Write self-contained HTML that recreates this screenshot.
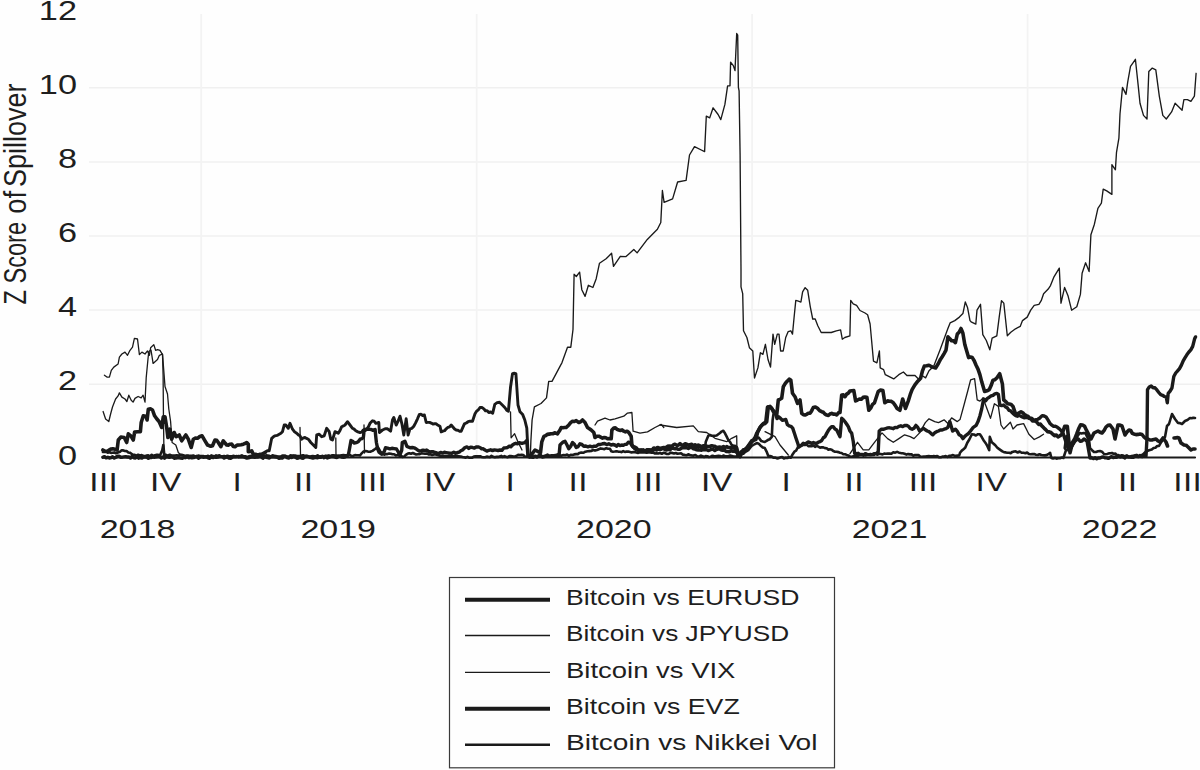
<!DOCTYPE html>
<html><head><meta charset="utf-8"><style>
html,body{margin:0;padding:0;background:#fff;}
body{width:1200px;height:770px;overflow:hidden;}
svg{display:block;}
text{font-family:"Liberation Sans",sans-serif;fill:#1e1e1e;}
</style></head><body>
<svg width="1200" height="770" viewBox="0 0 1200 770">
<rect width="1200" height="770" fill="#fefefe"/>
<line x1="89" y1="384.2" x2="1200" y2="384.2" stroke="#f0f0f0" stroke-width="1.5"/><line x1="89" y1="310.1" x2="1200" y2="310.1" stroke="#f0f0f0" stroke-width="1.5"/><line x1="89" y1="236.0" x2="1200" y2="236.0" stroke="#f0f0f0" stroke-width="1.5"/><line x1="89" y1="161.9" x2="1200" y2="161.9" stroke="#f0f0f0" stroke-width="1.5"/><line x1="89" y1="87.8" x2="1200" y2="87.8" stroke="#f0f0f0" stroke-width="1.5"/><line x1="201.2" y1="14" x2="201.2" y2="458" stroke="#f3f3f3" stroke-width="1.8"/><line x1="476.7" y1="14" x2="476.7" y2="458" stroke="#f3f3f3" stroke-width="1.8"/><line x1="752.1" y1="14" x2="752.1" y2="458" stroke="#f3f3f3" stroke-width="1.8"/><line x1="1027.6" y1="14" x2="1027.6" y2="458" stroke="#f3f3f3" stroke-width="1.8"/>
<g font-size="27"><text x="0" y="0" transform="translate(77,464.5) scale(1.27,1)" text-anchor="end">0</text><text x="0" y="0" transform="translate(77,390.4) scale(1.27,1)" text-anchor="end">2</text><text x="0" y="0" transform="translate(77,316.3) scale(1.27,1)" text-anchor="end">4</text><text x="0" y="0" transform="translate(77,242.2) scale(1.27,1)" text-anchor="end">6</text><text x="0" y="0" transform="translate(77,168.1) scale(1.27,1)" text-anchor="end">8</text><text x="0" y="0" transform="translate(77,94.0) scale(1.27,1)" text-anchor="end">10</text><text x="0" y="0" transform="translate(77,19.9) scale(1.27,1)" text-anchor="end">12</text></g>
<g font-size="25"><text transform="translate(103.70,491) scale(1.33,1)" text-anchor="middle" letter-spacing="0.3">III</text><text transform="translate(165.60000000000002,491) scale(1.33,1)" text-anchor="middle">IV</text><text transform="translate(237.20,491) scale(1.33,1)" text-anchor="middle" letter-spacing="0.3">I</text><text transform="translate(303.70,491) scale(1.33,1)" text-anchor="middle" letter-spacing="0.3">II</text><text transform="translate(372.70,491) scale(1.33,1)" text-anchor="middle" letter-spacing="0.3">III</text><text transform="translate(439.6,491) scale(1.33,1)" text-anchor="middle">IV</text><text transform="translate(510.20,491) scale(1.33,1)" text-anchor="middle" letter-spacing="0.3">I</text><text transform="translate(578.20,491) scale(1.33,1)" text-anchor="middle" letter-spacing="0.3">II</text><text transform="translate(648.50,491) scale(1.33,1)" text-anchor="middle" letter-spacing="0.3">III</text><text transform="translate(716.8,491) scale(1.33,1)" text-anchor="middle">IV</text><text transform="translate(786.20,491) scale(1.33,1)" text-anchor="middle" letter-spacing="0.3">I</text><text transform="translate(854.20,491) scale(1.33,1)" text-anchor="middle" letter-spacing="0.3">II</text><text transform="translate(923.20,491) scale(1.33,1)" text-anchor="middle" letter-spacing="0.3">III</text><text transform="translate(991.3,491) scale(1.33,1)" text-anchor="middle">IV</text><text transform="translate(1060.20,491) scale(1.33,1)" text-anchor="middle" letter-spacing="0.3">I</text><text transform="translate(1127.70,491) scale(1.33,1)" text-anchor="middle" letter-spacing="0.3">II</text><text transform="translate(1187.70,491) scale(1.33,1)" text-anchor="middle" letter-spacing="0.3">III</text><text transform="translate(137.5,537.8) scale(1.36,1)" text-anchor="middle">2018</text><text transform="translate(338.2,537.8) scale(1.36,1)" text-anchor="middle">2019</text><text transform="translate(613.8,537.8) scale(1.36,1)" text-anchor="middle">2020</text><text transform="translate(889.5,537.8) scale(1.36,1)" text-anchor="middle">2021</text><text transform="translate(1119.5,537.8) scale(1.36,1)" text-anchor="middle">2022</text></g>
<g font-size="24">
<text transform="translate(26.3,304.5) rotate(-90) scale(1,1.33)" textLength="82.5" lengthAdjust="spacingAndGlyphs">Z Score</text>
<text transform="translate(26.3,213.8) rotate(-90) scale(1,1.33)" textLength="22.8" lengthAdjust="spacingAndGlyphs">of</text>
<text transform="translate(26.3,187) rotate(-90) scale(1,1.33)" textLength="103.5" lengthAdjust="spacingAndGlyphs">Spillover</text>
</g>
<polyline points="102.9,457.5 1195.0,457.5" fill="none" stroke="#1a1a1a" stroke-width="2.2" stroke-linejoin="round" stroke-linecap="round"/><polyline points="850.0,453.6 857.5,442.3 863.2,449.9 868.8,449.9 874.5,442.3 882.0,432.9 887.6,438.6 893.3,442.3 898.9,438.6 904.6,434.8 910.2,436.7 914.0,438.6 919.6,432.9 925.3,422.6 929.0,418.8 934.7,421.6 938.5,422.6 944.1,419.8 947.9,423.5 951.6,417.9 957.3,421.6 960.0,419.6 964.0,405.0 968.0,390.0 970.6,379.9 974.6,378.6 977.2,399.8 979.9,401.1 983.0,398.0 990.5,418.3 994.4,403.7 998.4,406.4 1001.0,425.0 1003.7,429.0 1010.4,422.3 1013.0,429.0 1017.0,425.0 1023.6,423.6 1028.9,434.2 1034.2,439.5 1039.5,436.9 1043.5,434.2" fill="none" stroke="#1a1a1a" stroke-width="1.3" stroke-linejoin="round" stroke-linecap="round"/><polyline points="660.0,425.0 676.7,427.5 693.3,425.8 698.3,431.7 706.7,432.5 715.0,438.3 726.7,441.7 731.7,438.3 736.7,435.8 737.0,456.0" fill="none" stroke="#1a1a1a" stroke-width="1.3" stroke-linejoin="round" stroke-linecap="round"/><polyline points="595.0,425.0 597.5,421.2 605.0,418.1 610.0,420.0 615.0,418.8 623.8,416.2 627.5,413.1 631.9,412.5 633.1,431.2 640.0,433.1 647.5,431.9 655.0,427.5 661.2,424.4 663.8,427.5" fill="none" stroke="#1a1a1a" stroke-width="1.3" stroke-linejoin="round" stroke-linecap="round"/><polyline points="765.0,431.7 775.0,436.7 780.0,445.0 788.3,455.0" fill="none" stroke="#1a1a1a" stroke-width="1.3" stroke-linejoin="round" stroke-linecap="round"/><polyline points="300.0,427.5 300.5,455.0" fill="none" stroke="#1a1a1a" stroke-width="1.3" stroke-linejoin="round" stroke-linecap="round"/><polyline points="335.8,438.0 336.0,455.0" fill="none" stroke="#1a1a1a" stroke-width="1.3" stroke-linejoin="round" stroke-linecap="round"/><polyline points="364.0,425.0 364.5,453.0" fill="none" stroke="#1a1a1a" stroke-width="1.3" stroke-linejoin="round" stroke-linecap="round"/><polyline points="510.5,411.8 511.1,437.8 514.6,433.7 518.0,441.9 522.0,450.0" fill="none" stroke="#1a1a1a" stroke-width="1.3" stroke-linejoin="round" stroke-linecap="round"/><polyline points="163.3,445.0 163.5,455.0" fill="none" stroke="#1a1a1a" stroke-width="1.3" stroke-linejoin="round" stroke-linecap="round"/><polyline points="102.9,452.0 104.5,451.9 106.1,451.8 107.7,452.7 109.3,452.0 111.0,452.9 112.6,452.8 114.2,452.4 115.8,453.3 117.9,452.5 120.0,451.7 121.7,450.3 123.3,450.4 125.0,451.0 126.6,451.1 128.3,452.5 130.4,452.9 132.5,454.6 134.4,454.7 136.2,455.6 138.1,454.7 140.0,455.5 141.7,455.1 143.3,455.7 145.0,456.2 146.7,455.6 148.3,455.3 150.0,456.3 151.7,454.8 153.3,456.1 155.0,455.2 156.7,454.9 158.3,454.9 160.0,455.5 162.3,450.0 163.3,445.0 164.3,455.0 166.1,454.8 167.9,455.7 169.7,454.7 171.4,455.5 173.2,455.6 175.0,455.5 176.7,455.3 178.3,455.6 180.0,454.9 181.7,454.9 183.3,455.2 185.0,456.0 186.7,455.6 188.3,455.5 190.0,455.9 191.7,455.8 193.3,455.5 195.0,456.4 196.7,456.3 198.3,455.6 200.0,456.0 201.6,456.1 203.2,456.0 204.8,456.6 206.5,456.4 208.1,455.7 209.7,456.8 211.3,455.4 212.9,455.9 214.5,456.4 216.1,455.4 217.7,456.0 219.4,455.3 221.0,456.3 222.6,456.4 224.2,456.1 225.8,456.6 227.4,455.7 229.0,456.3 230.6,456.2 232.3,456.1 233.9,455.9 235.5,456.5 237.1,456.7 238.7,456.0 240.3,456.3 241.9,455.3 243.5,456.3 245.2,456.2 246.8,456.8 248.4,456.5 250.0,456.0 251.6,455.7 253.2,455.8 254.8,456.3 256.5,455.2 258.1,455.9 259.7,455.5 261.3,455.4 262.9,455.3 264.5,456.4 266.1,455.4 267.7,455.6 269.4,455.8 271.0,456.6 272.6,455.3 274.2,455.9 275.8,456.1 277.4,456.6 279.0,456.5 280.6,456.6 282.3,455.6 283.9,455.9 285.5,455.8 287.1,456.6 288.7,456.7 290.3,455.4 291.9,455.5 293.5,455.6 295.2,455.6 296.8,456.0 298.4,456.1 300.0,456.0 301.6,455.6 303.2,455.2 304.8,455.9 306.4,455.8 308.0,456.1 309.6,456.7 311.2,456.3 312.8,456.0 314.4,456.2 316.0,456.3 317.6,455.3 319.2,456.6 320.8,456.4 322.4,456.6 324.0,456.5 325.6,455.8 327.2,455.8 328.8,455.4 330.4,456.2 332.0,455.3 333.6,455.3 335.2,455.5 336.8,455.5 338.4,455.7 340.0,456.0 341.7,455.2 343.3,455.1 345.0,455.3 346.7,455.2 348.3,455.6 350.0,455.0 351.7,456.3 353.3,455.8 355.0,455.1 356.7,455.2 358.3,455.3 360.0,455.5 361.7,453.3 363.4,451.6 365.6,451.0 367.9,451.6 370.2,451.8 372.5,450.9 375.1,449.0 377.7,447.0 380.0,451.0 382.5,453.8 384.2,454.7 385.8,454.0 387.5,454.1 389.2,453.6 390.8,453.8 392.5,454.3 394.2,454.3 395.8,455.4 397.5,455.0 399.2,455.1 400.8,455.6 402.5,457.0 404.2,456.6 405.8,454.9 407.5,453.8 409.2,453.2 411.0,453.8 412.8,453.0 414.5,453.8 416.2,454.5 418.0,454.3 419.8,454.1 421.5,453.4 423.2,453.5 425.0,453.8 426.8,453.4 428.6,454.5 430.4,454.3 432.1,454.9 433.9,454.4 435.7,454.4 437.5,455.0 439.2,455.6 440.8,456.1 442.5,456.0 444.2,456.0 445.8,456.2 447.5,456.2 449.2,455.5 450.8,456.1 452.5,456.2 454.2,456.1 455.8,455.7 457.5,455.9 459.2,456.4 460.8,456.5 462.5,457.0 464.1,457.3 465.7,457.7 467.3,456.8 469.0,457.6 470.6,457.7 472.2,457.6 473.8,456.6 475.4,456.4 477.0,456.3 478.6,456.3 480.2,456.3 481.9,456.9 483.5,457.3 485.1,457.2 486.7,456.6 488.3,456.9 489.9,457.1 491.5,455.9 493.1,456.8 494.8,457.2 496.4,456.9 498.0,456.9 499.6,456.4 501.2,455.9 502.8,456.9 504.4,456.1 506.0,456.8 507.7,457.1 509.3,456.1 510.9,456.1 512.5,456.2 514.4,456.7 516.2,456.0 518.1,454.8 520.0,455.0 521.6,454.7 523.2,455.0 524.8,456.5 526.4,456.7 528.0,456.5 529.6,455.9 531.2,456.9 532.8,457.1 534.4,456.6 536.0,456.0 537.6,456.3 539.2,455.6 540.8,455.3 542.4,456.8 544.0,456.2 545.6,456.0 547.2,456.6 548.8,455.7 550.4,456.4 552.0,456.3 553.6,455.2 555.2,455.3 556.8,455.3 558.4,455.1 560.0,455.5 561.8,455.6 563.6,455.0 565.4,455.2 567.1,454.6 568.9,455.8 570.7,454.8 572.5,455.0 574.2,454.4 576.0,454.1 577.8,454.1 579.5,452.9 581.2,452.5 583.3,452.8 585.4,451.7 587.5,451.2 589.4,451.1 591.2,451.0 593.1,450.0 595.0,450.6 596.9,450.0 598.8,449.2 600.6,448.4 602.5,448.8 604.4,449.2 606.2,448.2 608.1,448.7 610.0,448.8 611.2,451.2 613.0,451.7 614.7,451.5 616.4,451.2 618.1,451.6 619.8,451.7 621.5,452.1 623.2,451.1 624.9,451.9 626.6,451.5 628.3,451.6 630.0,452.0 631.7,452.5 633.3,452.1 635.0,452.2 636.7,452.6 638.3,452.9 640.0,452.2 641.7,452.5 643.3,452.3 645.0,452.4 646.7,452.7 648.3,452.4 650.0,452.5 651.7,452.6 653.3,452.6 655.0,453.5 656.7,453.2 658.3,453.5 660.0,453.0 661.8,453.8 663.5,452.8 665.2,453.3 667.0,454.0 668.8,453.9 670.5,452.9 672.2,452.9 674.0,453.5 675.8,453.0 677.5,453.8 679.3,453.5 681.1,453.4 682.9,454.6 684.6,454.9 686.4,455.3 688.2,454.3 690.0,455.0 691.8,455.5 693.6,455.6 695.4,455.0 697.1,456.3 698.9,456.6 700.7,455.6 702.5,456.2 704.1,457.0 705.7,456.1 707.3,456.2 708.9,457.0 710.5,456.8 712.1,455.7 713.8,456.1 715.4,456.3 717.0,456.0 718.6,455.8 720.2,456.0 721.8,456.6 723.4,455.5 725.0,456.2 726.7,456.4 728.4,456.2 730.1,455.6 731.9,456.1 733.6,456.6 735.3,456.5 737.0,456.5 740.0,455.0 741.7,453.3 743.3,453.8 745.0,452.0 746.7,451.1 748.3,450.1 750.0,448.0 751.7,446.0 753.3,445.0 755.0,444.0 756.9,443.1 758.7,443.7 761.3,446.3 763.0,447.6 764.8,448.1 766.6,451.6 768.3,455.9 770.0,456.1 771.8,456.5 773.5,457.7 775.2,457.6 777.0,458.4 778.7,458.2 780.5,457.3 782.2,457.1 783.9,458.4 785.7,457.8 787.4,458.0 789.2,457.0 790.9,457.7 792.7,454.2 794.4,451.7 796.1,450.7 798.8,445.5 800.9,445.6 802.9,445.0 805.0,445.0 806.7,444.5 808.3,446.1 810.0,445.9 811.6,446.3 813.3,445.4 815.0,446.8 816.6,445.8 818.3,446.7 820.0,447.6 821.7,447.3 823.3,447.4 825.0,448.1 826.7,448.3 828.4,449.7 830.0,449.3 831.7,449.7 833.3,451.1 835.0,451.7 836.7,451.8 838.3,452.1 840.0,452.7 841.6,453.0 843.3,454.2 845.0,454.2 846.7,454.9 848.3,455.4 850.0,456.6 851.7,456.7 853.4,456.2 855.1,456.3 856.8,455.6 858.5,455.6 860.2,454.9 862.0,455.0 863.7,454.5 865.4,455.4 867.1,454.9 868.8,454.6 870.5,454.0 872.2,454.4 873.9,455.0 875.6,453.6 877.3,454.7 879.1,453.9 880.8,454.0 882.5,454.4 884.2,453.6 885.9,453.7 887.6,453.6 889.5,453.5 891.4,453.7 893.3,452.3 895.2,452.7 897.1,451.8 899.0,452.7 900.9,453.1 902.7,453.3 904.6,453.8 906.5,454.6 908.2,454.1 909.9,454.4 911.6,454.4 913.3,455.7 915.0,455.1 916.8,455.1 918.5,455.1 920.2,456.5 921.9,456.7 923.6,456.6 925.3,456.5 927.0,456.2 928.7,456.1 930.4,456.2 932.1,456.4 933.8,456.0 935.6,456.4 937.3,456.1 939.0,457.2 940.7,457.3 942.4,456.6 944.1,456.5 945.8,456.0 947.5,457.0 949.1,455.9 950.8,455.8 952.5,455.1 954.2,455.6 955.8,455.7 957.5,455.6 959.2,455.5 960.0,452.8 961.8,450.6 963.5,449.3 965.3,447.5 967.3,442.7 969.3,439.5 971.9,434.2 973.9,434.5 975.9,435.5 977.9,434.2 979.9,434.2 981.9,437.3 983.9,440.8 985.7,443.2 987.4,446.2 989.2,450.1 989.8,436.9 991.8,442.2 993.6,443.7 995.3,445.3 997.1,447.5 998.9,448.9 1000.6,450.1 1002.4,451.4 1004.0,452.2 1005.7,452.4 1007.4,452.8 1009.0,452.8 1010.7,453.1 1012.4,451.9 1014.0,451.5 1015.7,451.4 1017.7,452.5 1019.7,451.5 1021.6,452.8 1023.6,452.8 1025.4,453.2 1027.1,452.5 1028.9,454.0 1030.7,454.3 1032.4,454.1 1034.2,454.1 1036.0,454.7 1037.7,455.0 1039.5,454.2 1041.3,455.0 1043.0,455.2 1044.8,455.4 1046.6,455.1 1048.3,454.2 1050.1,452.8 1051.4,458.0 1053.1,458.5 1054.8,458.1 1056.5,458.6 1058.3,458.3 1060.0,458.3 1061.7,457.6 1063.4,458.0 1066.0,450.1 1064.7,448.0 1066.5,436.0 1070.3,449.9 1072.2,445.8 1074.1,442.6 1075.9,439.5 1077.8,435.7 1079.7,433.0 1081.6,433.5 1083.5,433.1 1085.4,433.0 1087.2,437.0 1089.1,440.5 1090.0,448.0 1092.0,450.2 1094.0,452.0 1096.0,452.0 1098.0,451.3 1100.0,451.0 1102.0,451.7 1104.0,454.0 1105.6,454.3 1107.2,454.0 1108.8,453.4 1110.4,453.3 1112.0,453.0 1113.6,453.9 1115.2,453.5 1116.8,455.2 1118.4,455.0 1120.0,456.0 1121.7,455.3 1123.3,455.6 1125.0,456.4 1126.7,455.5 1128.3,456.4 1130.0,456.8 1131.7,456.0 1133.3,455.8 1135.0,456.0 1136.7,456.3 1138.3,456.4 1140.0,456.0 1141.7,455.2 1143.3,454.2 1145.0,452.3 1146.7,451.4 1148.3,450.6 1150.0,450.0 1151.8,449.6 1153.6,448.1 1155.4,447.7 1157.2,446.0 1159.0,446.0 1161.0,442.3 1163.0,440.0 1165.0,437.0 1167.0,426.0 1169.0,424.0 1172.0,414.0 1175.0,419.0 1178.0,423.0 1180.0,423.1 1182.0,424.0 1185.0,421.0 1186.7,420.3 1188.3,419.3 1190.0,418.0 1191.7,418.3 1193.3,417.7 1195.0,418.0" fill="none" stroke="#1a1a1a" stroke-width="2.6" stroke-linejoin="round" stroke-linecap="round"/><polyline points="690.0,447.0 691.7,447.1 693.3,447.1 695.0,447.1 696.7,446.6 698.3,447.9 700.0,446.9 701.7,448.2 703.3,448.1 705.0,447.5 705.8,441.7 708.3,435.8 710.0,435.0 711.6,435.7 713.3,435.8 715.0,435.8 716.6,435.5 718.3,434.2 720.0,433.0 721.6,431.6 723.3,430.8 725.0,433.3 726.7,436.7 728.4,440.2 730.0,441.8 731.7,445.0 733.4,445.8 735.0,445.8 736.7,447.0" fill="none" stroke="#1a1a1a" stroke-width="2.6" stroke-linejoin="round" stroke-linecap="round"/><polyline points="758.7,437.6 761.3,441.1 763.0,441.6 764.8,442.0 767.4,440.3 769.6,439.3 771.8,436.8 772.6,420.2 773.5,414.0 776.0,413.0" fill="none" stroke="#1a1a1a" stroke-width="2.6" stroke-linejoin="round" stroke-linecap="round"/><polyline points="102.9,457.3 104.5,456.6 106.1,457.9 107.8,457.3 109.4,458.1 111.0,457.7 112.6,456.8 114.3,458.1 115.9,457.3 117.5,456.3 119.1,456.3 120.8,457.3 122.4,457.2 124.0,456.9 125.6,456.6 127.3,457.0 128.9,456.9 130.5,458.0 132.1,456.3 133.8,457.8 135.4,458.0 137.0,456.5 138.6,458.2 140.3,457.7 141.9,458.1 143.5,456.9 145.1,457.0 146.8,457.1 148.4,458.3 150.0,457.3 151.6,457.5 153.2,457.0 154.8,457.2 156.5,456.9 158.1,456.4 159.7,456.5 161.3,458.0 162.9,456.9 164.5,458.2 166.1,456.8 167.7,456.8 169.4,457.3 171.0,456.7 172.6,457.0 174.2,458.2 175.8,458.1 177.4,457.9 179.0,457.6 180.6,458.1 182.3,458.2 183.9,457.4 185.5,457.7 187.1,456.4 188.7,457.8 190.3,457.2 191.9,457.8 193.5,457.6 195.2,456.9 196.8,456.4 198.4,458.2 200.0,457.3 201.6,456.6 203.2,457.2 204.8,457.0 206.5,456.9 208.1,457.8 209.7,458.3 211.3,456.8 212.9,457.6 214.5,456.9 216.1,457.4 217.7,457.1 219.4,456.6 221.0,456.6 222.6,456.7 224.2,458.1 225.8,457.3 227.4,456.7 229.0,458.1 230.6,458.3 232.3,457.2 233.9,456.6 235.5,456.7 237.1,456.5 238.7,457.0 240.3,456.5 241.9,456.8 243.5,456.8 245.2,457.4 246.8,458.1 248.4,457.8 250.0,457.3 251.6,457.1 253.2,457.1 254.8,457.3 256.5,457.1 258.1,457.0 259.7,456.4 261.3,456.9 262.9,458.2 264.5,456.6 266.1,457.3 267.7,457.6 269.4,458.0 271.0,456.7 272.6,456.8 274.2,456.8 275.8,457.1 277.4,457.2 279.0,458.2 280.6,458.0 282.3,458.0 283.9,456.3 285.5,456.4 287.1,457.7 288.7,458.1 290.3,457.2 291.9,457.5 293.5,456.3 295.2,457.1 296.8,458.2 298.4,458.0 300.0,457.3 301.6,458.0 303.2,458.2 304.8,456.8 306.4,456.5 308.0,456.6 309.6,457.3 311.2,457.6 312.9,458.1 314.5,457.6 316.1,457.5 317.7,457.7 319.3,457.1 320.9,457.3 322.5,456.2 324.1,457.7 325.7,456.6 327.3,458.0 328.9,457.4 330.5,456.7 332.1,456.3 333.8,456.6 335.4,457.3 337.0,457.5 338.6,456.3 340.2,456.2 341.8,457.1 343.4,457.2 345.0,457.0 346.7,455.7 348.4,454.8 349.7,447.7 351.0,440.5 352.6,441.2 354.3,443.1 356.2,442.7 358.2,441.8 360.1,439.2 362.1,438.6 363.4,437.3 364.0,431.4 366.0,429.5 367.7,429.1 369.5,429.4 371.2,429.5 373.1,430.4 375.1,429.5 375.7,436.0 376.4,442.5 377.7,449.0 379.0,452.2 381.6,454.2 384.2,451.6 385.5,447.7 387.6,448.2 389.8,448.9 391.9,448.3 394.2,448.6 396.5,449.0 398.4,452.2 399.7,455.5 401.7,450.3 402.3,442.5 404.9,441.2 406.9,446.4 410.0,447.7 412.5,447.5 414.2,447.8 415.8,448.7 417.5,450.0 419.4,451.1 421.2,450.7 423.1,450.1 425.0,450.6 426.7,450.0 428.3,451.2 430.0,451.9 431.7,451.7 433.3,451.7 435.0,452.5 436.9,453.0 438.8,453.7 440.6,452.4 442.5,453.1 444.4,452.2 446.2,452.8 448.1,452.9 450.0,453.1 451.9,453.3 453.8,452.2 455.6,453.2 457.5,452.5 459.2,452.1 460.8,450.8 462.5,450.0 465.0,447.5 466.9,446.9 468.8,448.4 470.6,447.1 472.5,447.5 474.4,448.1 476.2,447.0 478.1,446.9 480.0,447.5 481.7,448.9 483.3,448.8 485.0,450.0 486.9,451.1 488.8,450.3 490.6,449.8 492.5,450.6 494.4,449.9 496.2,450.1 498.1,450.5 500.0,450.0 501.9,450.3 503.8,448.0 505.6,447.9 507.5,447.5 509.2,446.1 510.8,446.8 512.5,445.0 514.2,443.9 515.8,443.3 517.5,443.8 519.2,442.7 521.0,443.2 522.7,443.2 524.8,442.6 526.8,440.5 527.5,450.0 528.0,456.5 529.8,457.2 531.5,456.8 533.2,457.3 535.0,456.2 536.8,457.1 538.7,455.8 540.5,455.5 542.3,457.0 544.2,456.5 546.0,456.0 547.6,455.1 549.2,456.3 550.9,455.8 552.5,455.7 554.1,455.7 555.8,455.3 557.4,455.0 559.0,456.0 560.0,445.0 561.2,443.8 563.1,442.1 565.0,441.2 566.9,444.7 568.8,448.8 570.6,446.5 572.5,442.5 574.4,444.2 576.2,447.5 578.1,446.6 580.0,443.8 581.9,444.4 583.8,446.2 585.8,446.0 587.9,446.9 590.0,446.2 592.1,446.9 594.2,446.1 596.2,446.2 598.3,444.5 600.4,444.5 602.5,443.8 604.6,443.5 606.7,444.6 608.8,443.8 611.2,445.0 613.0,444.5 614.8,445.0 616.5,446.2 618.2,444.5 620.0,445.6 621.7,445.0 623.3,445.4 625.0,444.4 626.7,444.3 628.3,442.2 630.0,442.5 633.0,447.0 634.8,446.9 636.5,447.9 638.2,450.5 640.0,450.5 641.7,449.9 643.3,450.8 645.0,451.0 646.7,449.8 648.3,449.6 650.0,450.0 651.7,450.8 653.3,450.1 655.0,449.3 656.7,450.1 658.3,449.2 660.0,449.5 661.7,449.0 663.3,448.3 665.0,449.8 666.7,450.0 668.3,449.4 670.0,449.9 671.7,448.0 673.3,448.3 675.0,448.8 676.7,448.6 678.3,449.4 680.0,449.2 681.7,448.0 683.3,447.6 685.0,447.8 686.7,447.8 688.3,448.5 690.0,447.5 691.7,447.3 693.3,448.9 695.0,449.2 696.7,449.8 698.3,450.1 700.0,450.0 701.7,450.2 703.3,449.7 705.0,449.6 706.7,449.7 708.3,450.6 710.0,450.0 711.6,449.2 713.2,449.4 714.8,450.5 716.4,449.5 718.0,449.1 719.6,449.1 721.2,450.0 722.9,450.3 724.5,450.0 726.1,451.5 727.7,451.5 729.3,451.9 730.9,450.6 732.5,451.2 734.7,451.0 736.9,452.5 738.7,455.0 740.9,452.0 743.0,450.7 745.7,449.0 747.4,446.8 749.1,444.6 750.9,443.3 752.6,441.1 754.4,440.1 756.1,439.4 757.8,431.6 759.6,428.1 761.4,425.4 763.1,423.7 765.7,422.0 767.4,407.2 770.0,406.3 772.6,409.8 775.3,412.4 777.0,418.5 778.7,416.8 780.5,418.3 782.2,420.2 784.0,420.0 785.7,419.4 787.4,424.6 789.1,425.8 790.9,426.3 792.7,428.1 794.4,433.3 796.1,438.5 797.9,443.7 798.8,447.2 801.0,445.7 803.3,443.3 805.0,443.8 806.6,443.2 808.3,441.9 810.0,442.5 811.7,443.4 813.4,442.5 815.0,443.2 816.7,443.3 818.4,442.2 820.0,441.7 821.7,440.5 823.3,437.8 825.0,436.7 826.7,433.4 828.3,430.6 830.0,428.3 831.6,426.8 833.3,426.7 835.0,429.1 836.7,430.0 838.4,433.5 840.0,436.7 841.7,418.3 843.4,419.7 845.0,421.7 846.6,424.0 848.3,426.7 850.0,431.0 851.7,433.3 853.3,441.7 854.7,453.6 856.5,453.7 858.2,453.3 860.0,454.6 861.8,454.4 863.5,455.2 865.3,453.6 867.0,454.4 868.8,454.6 870.7,454.9 872.6,454.6 874.5,453.6 876.4,453.5 878.2,451.8 879.2,431.0 881.5,429.2 883.9,429.2 885.8,428.5 887.6,427.9 889.5,427.8 891.4,428.2 893.3,428.7 895.1,427.4 897.0,427.6 898.9,426.3 900.8,425.8 902.7,426.6 904.6,425.5 906.5,425.4 908.4,426.2 910.2,428.5 912.1,429.2 914.0,428.2 915.9,425.4 917.8,427.4 919.6,431.0 921.5,429.8 923.4,428.2 925.3,429.8 927.2,431.0 929.1,431.7 930.9,433.3 932.8,434.8 934.7,432.8 936.6,431.7 938.5,431.0 940.4,429.9 942.2,430.0 944.1,429.2 946.0,428.6 947.9,427.3 949.8,421.6 952.6,431.0 955.4,429.2 957.3,431.4 959.2,434.8 961.0,435.7 962.9,438.6 964.8,436.4 966.7,434.8 968.6,433.3 970.5,431.0 973.3,427.3 976.1,425.4 978.0,421.6 979.9,416.0 981.8,408.5 983.6,399.0 985.5,400.9 987.4,398.4 989.3,397.2 991.1,395.9 993.0,395.3 994.9,393.8 996.8,393.4 998.4,394.5 999.8,405.0 1001.8,405.6 1003.7,405.0 1005.5,406.9 1007.2,407.7 1009.0,410.4 1010.7,410.9 1012.4,412.8 1014.0,414.4 1015.7,415.6 1017.4,416.2 1019.0,415.5 1020.6,416.0 1022.3,417.0 1024.0,417.7 1025.6,417.5 1027.2,417.5 1028.9,418.3 1030.7,418.8 1032.4,421.0 1034.2,421.0 1036.0,419.7 1037.7,419.3 1039.5,418.3 1042.2,415.6 1044.2,416.0 1046.1,417.0 1048.1,420.1 1050.1,423.6 1051.9,425.2 1053.6,426.4 1055.4,426.3 1057.4,427.3 1059.4,428.9 1061.4,430.9 1063.4,434.2 1066.0,442.2 1068.7,450.1 1070.7,447.9 1072.6,444.8 1074.6,441.6 1076.6,439.5 1078.4,439.0 1080.1,441.3 1081.9,441.0 1084.0,439.0 1087.0,441.0 1090.0,458.0 1091.7,457.8 1093.3,458.6 1095.0,457.8 1096.7,458.8 1098.3,457.9 1100.0,458.0 1101.7,457.2 1103.3,456.9 1105.0,457.9 1106.7,457.9 1108.3,458.4 1110.0,457.5 1111.7,456.6 1113.3,457.6 1115.0,457.0 1116.7,457.2 1118.3,456.4 1120.0,457.0 1121.7,456.6 1123.3,457.0 1125.0,457.9 1126.7,456.2 1128.3,457.0 1130.0,457.0 1131.7,457.4 1133.3,457.4 1135.0,455.6 1136.7,455.3 1138.3,456.6 1140.0,455.5 1142.0,456.6 1144.0,455.8 1146.0,456.0 1147.0,438.0 1147.5,389.7 1149.3,386.9 1151.2,385.9 1153.1,387.7 1155.0,387.8 1156.9,389.9 1158.8,392.5 1160.7,394.7 1162.5,395.3 1164.4,396.5 1166.3,397.2 1167.3,402.8 1168.2,393.4 1170.1,391.2 1172.0,387.8 1173.8,376.5 1175.7,373.0 1177.6,370.8 1179.5,368.6 1181.4,365.2 1183.2,360.8 1185.1,357.6 1187.0,354.6 1188.9,352.0 1190.8,349.9 1192.7,346.4 1194.6,338.8 1195.5,336.9" fill="none" stroke="#1a1a1a" stroke-width="3.4" stroke-linejoin="round" stroke-linecap="round"/><polyline points="102.9,450.0 105.2,451.3 107.5,451.2 109.3,449.8 111.1,449.0 112.9,448.8 115.0,449.2 117.1,450.0 118.3,440.0 120.8,437.1 122.5,437.3 124.2,437.5 126.7,442.5 128.3,433.8 130.8,435.8 133.3,440.0 134.6,432.1 137.5,431.7 140.4,431.7 141.2,422.5 143.3,415.8 145.8,416.2 147.1,420.0 148.3,409.2 150.4,408.8 152.5,410.0 154.6,415.8 156.7,418.8 159.2,421.7 161.7,427.5 163.3,416.7 165.0,416.7 166.7,427.5 167.9,437.5 170.0,429.2 171.7,439.2 174.2,432.5 176.2,436.7 179.2,435.0 181.7,440.8 183.8,437.7 185.8,435.0 188.3,439.2 191.2,447.5 193.3,439.2 195.4,438.0 197.5,438.3 199.8,436.5 202.1,435.8 205.0,440.8 207.5,445.0 209.2,445.7 210.8,446.3 212.5,445.8 215.0,440.0 216.7,440.3 218.3,442.5 220.8,446.7 223.3,440.8 225.0,443.0 226.7,445.0 228.3,445.1 230.0,444.2 231.7,444.1 233.3,446.5 235.0,446.7 237.1,445.1 239.2,445.0 241.2,444.8 243.3,444.2 245.0,443.5 246.7,442.5 248.3,444.2 248.3,451.7 250.0,451.5 251.7,450.8 253.3,454.2 255.4,454.2 257.5,455.0 259.6,454.4 261.7,454.2 263.4,453.5 265.0,452.5" fill="none" stroke="#1a1a1a" stroke-width="3.6" stroke-linejoin="round" stroke-linecap="round"/><polyline points="528.2,455.5 530.9,455.5 533.0,452.6 535.0,450.0 537.7,451.4 540.5,452.8 541.8,441.9 543.9,436.4 545.6,435.7 547.3,434.4 549.1,434.1 551.0,433.8 552.8,433.7 555.1,432.8 557.5,433.8 560.0,430.0 561.2,427.5 562.9,427.7 564.6,427.5 566.2,427.5 568.8,425.0 570.6,422.6 572.5,421.2 574.4,421.5 576.2,420.6 578.8,422.5 580.6,421.8 582.5,420.0 585.0,422.5 587.5,427.5 589.4,428.7 591.2,430.0 593.8,432.5 595.0,437.5 596.9,436.2 598.8,436.2 600.6,437.1 602.5,438.1 604.2,437.5 605.8,437.8 607.5,438.8 609.4,438.6 611.2,438.8 611.9,430.0 613.8,428.1 615.4,427.9 617.1,429.3 618.8,430.0 620.4,430.4 622.1,429.9 623.8,431.2 625.4,431.9 627.1,431.2 628.8,432.5 631.2,436.2 631.9,445.0 635.0,448.8 636.7,449.6 638.3,450.1 640.0,450.0 641.7,450.4 643.3,449.9 645.0,451.2 646.7,450.8 648.3,450.2 650.0,450.0 651.9,450.3 653.8,448.0 655.6,448.8 657.5,447.5 659.6,448.5 661.7,448.0 663.8,447.5 665.8,447.7 667.9,446.1 670.0,446.2" fill="none" stroke="#1a1a1a" stroke-width="3.6" stroke-linejoin="round" stroke-linecap="round"/><polyline points="670.0,446.2 671.7,446.5 673.3,444.9 675.0,444.2 676.7,445.2 678.3,445.1 680.0,443.7 681.7,445.0 683.3,445.3 685.0,443.7 686.7,444.3 688.3,445.2 690.0,444.7 691.7,444.2 693.3,445.9 695.0,444.8 696.7,446.1 698.3,445.0 700.0,445.9 701.7,446.9 703.3,445.7 705.0,446.5 706.7,446.1 708.3,446.6 710.0,446.3 711.7,445.8 713.3,446.1 715.0,446.2 716.7,447.8 718.3,447.3 720.0,447.0 721.7,447.9 723.3,446.5 725.0,447.8 726.7,446.6 728.3,447.5 730.0,447.5 731.7,447.9 733.4,447.5 735.0,448.6 736.7,448.0 738.3,455.0 740.0,456.7 741.6,453.5 743.3,450.0 745.0,449.3 746.7,448.3 748.4,446.6 750.0,443.3 751.6,440.9 753.3,440.0 755.0,437.6 756.7,433.3 758.4,430.7 760.0,427.5 761.6,425.6 763.3,424.2 765.0,423.5 766.7,421.7 768.3,406.7 770.0,407.0 771.7,408.3 773.4,411.8 775.0,413.3 776.7,415.0 778.3,400.0 780.0,399.3 781.7,398.3 783.3,386.7 785.0,383.9 786.7,381.7 789.2,379.2 790.8,380.0 792.5,393.3 795.0,396.7 797.5,403.3 800.0,400.0 801.7,413.3 803.4,414.7 805.0,415.0 806.7,414.3 808.3,413.2 810.0,413.3 811.6,410.9 813.3,407.5 815.4,407.0 817.5,408.3 819.6,410.6 821.7,411.7 823.4,412.3 825.0,414.2 826.7,415.0 828.4,415.4 830.0,414.0 831.7,413.3 833.4,414.2 835.0,414.1 836.7,415.0 838.4,412.8 840.0,412.5 841.7,395.0 843.4,394.9 845.0,396.7 846.7,394.1 848.3,393.1 850.0,391.0 851.9,390.7 853.8,390.6 855.6,400.9 857.5,400.0 859.4,399.0 861.3,399.3 863.1,397.4 865.0,397.1 866.9,397.2 868.8,410.3 870.7,408.1 872.6,404.3 874.5,402.8 878.2,391.5 880.5,390.1 882.9,390.6 884.8,402.8 887.6,400.9 889.5,401.2 891.4,401.4 893.3,402.8 895.2,405.4 897.1,408.5 899.9,410.3 902.7,399.0 905.5,408.5 908.3,400.9 910.2,394.7 912.1,389.6 914.9,384.9 917.8,381.2 920.6,378.3 922.5,370.8 924.3,366.1 926.6,365.8 929.0,365.2 930.9,366.3 932.8,367.1 935.6,368.0 938.5,363.3 940.4,359.4 942.2,356.7 944.1,353.6 946.0,350.1 947.9,336.9 949.8,338.7 951.6,340.7 953.5,340.9 955.4,342.6 957.3,334.1 959.1,332.2 961.0,328.5 962.9,333.2 964.8,344.5 968.6,357.6 970.5,357.1 972.3,357.6 974.2,360.7 976.1,365.2 978.0,369.1 979.9,374.6 981.8,382.1 984.6,391.5 987.0,390.8 989.3,389.6 991.1,385.6 993.0,380.2 994.9,379.7 996.8,378.0 999.7,373.7 1002.4,383.9 1003.7,399.8 1005.7,401.6 1007.7,403.7 1009.5,404.1 1011.2,404.5 1013.0,406.4 1015.7,414.3 1017.5,413.7 1019.2,412.7 1021.0,411.7 1022.8,412.7 1024.5,414.6 1026.3,415.6 1028.1,416.4 1029.8,418.3 1031.6,418.3 1033.4,420.1 1035.1,420.5 1036.9,422.3 1038.7,424.4 1040.4,424.1 1042.2,426.3 1044.0,428.1 1045.7,429.6 1047.5,431.6 1049.3,431.9 1051.0,432.5 1052.8,434.2 1054.5,435.7 1056.3,435.0 1058.0,436.9 1060.0,435.7 1062.0,434.2 1064.7,426.3 1067.3,426.3 1068.7,439.5 1070.0,452.8 1072.6,442.2 1074.6,439.1 1076.6,434.2 1078.6,428.8 1080.6,424.9 1082.6,425.0 1084.6,426.3 1086.3,429.9 1088.0,433.0 1091.0,439.0 1094.0,433.0 1096.0,432.0 1098.0,431.0 1100.0,432.3 1102.0,433.0 1104.0,430.6 1106.0,427.0 1108.0,425.3 1110.0,425.0 1113.0,429.0 1115.0,439.0 1118.0,425.0 1120.0,425.1 1122.0,426.0 1125.0,435.0 1127.0,432.1 1129.0,430.0 1130.7,430.4 1132.3,433.4 1134.0,434.0 1136.0,434.6 1138.0,434.4 1140.0,434.0 1142.0,434.5 1144.0,437.0 1146.0,438.7 1148.0,439.0 1150.0,440.0 1152.0,440.0 1154.0,439.4 1156.0,439.0 1158.0,441.0 1160.0,442.0 1163.0,438.0 1166.0,442.0 1167.5,446.0" fill="none" stroke="#1a1a1a" stroke-width="3.6" stroke-linejoin="round" stroke-linecap="round"/><polyline points="1174.0,438.0 1175.7,437.9 1177.3,437.5 1179.0,438.0 1181.0,443.0 1184.0,445.0 1186.0,445.2 1188.0,447.0 1191.0,450.0 1193.0,449.0 1195.0,449.0" fill="none" stroke="#1a1a1a" stroke-width="3.6" stroke-linejoin="round" stroke-linecap="round"/><polyline points="265.0,452.5 267.1,450.8 269.2,450.8 271.7,438.3 273.4,436.8 275.0,435.8 277.1,435.4 279.2,434.2 280.9,433.3 282.5,431.7 284.2,425.0 285.8,425.0 288.3,428.3 290.0,423.3 292.5,429.2 294.6,431.9 296.7,433.3 298.4,434.9 300.0,435.8 301.7,439.2 303.4,437.9 305.0,437.5 306.6,438.4 308.3,439.2 310.8,442.5 313.3,445.0 315.8,447.5 316.7,435.0 319.2,434.2 321.7,436.7 324.2,435.8 326.7,428.3 329.2,431.7 330.8,439.2 332.5,440.0 335.0,431.7 336.6,432.4 338.3,433.3 340.0,430.5 341.7,426.7 343.4,425.9 345.0,425.0 347.5,421.7 350.0,425.0 352.5,428.3 354.1,429.1 355.8,430.8 357.9,431.9 360.0,432.5 361.6,432.1 363.3,430.0 365.0,429.1 366.7,429.2 368.4,426.9 370.0,423.3 372.5,420.8 374.1,421.2 375.8,423.3 378.8,422.5 379.4,432.5 382.5,430.0 384.2,429.2 385.8,428.7 387.5,428.8 390.6,431.2 392.5,420.0 393.8,417.5 396.2,425.0 398.1,421.1 400.0,416.2 401.9,423.8 403.8,435.0 406.2,418.8 408.1,435.0 410.0,428.8 411.9,428.3 413.8,426.2 415.6,422.9 417.5,418.8 419.4,414.4 421.1,414.3 422.7,415.5 424.4,415.0 426.2,422.5 427.9,422.4 429.6,422.4 431.2,423.1 432.9,424.1 434.6,423.8 436.2,423.8 438.1,425.3 440.0,426.2 441.2,431.9 442.9,431.1 444.6,430.7 446.2,428.8 447.9,427.4 449.6,426.9 451.2,425.0 452.9,427.0 454.6,429.0 456.2,430.0 457.9,430.3 459.6,431.2 461.2,431.2 464.4,423.8 466.3,423.0 468.1,421.7 470.0,421.2 472.5,421.2 475.0,413.8 476.7,411.1 478.3,409.8 480.0,407.5 481.9,407.4 483.8,408.8 485.4,410.7 487.1,410.6 488.8,412.5 490.7,412.0 492.7,413.2 494.8,404.3 497.1,402.6 499.5,402.3 502.3,405.0 505.0,407.7 506.7,410.2 508.4,411.2 510.5,387.3 512.5,373.6 514.2,373.3 515.9,373.6 518.0,405.0 520.0,411.8 522.7,414.6 524.8,420.0 526.8,428.2 527.5,441.9 528.2,455.5" fill="none" stroke="#1a1a1a" stroke-width="2.9" stroke-linejoin="round" stroke-linecap="round"/><polyline points="530.3,457.0 530.9,440.5 532.1,420.0 534.4,406.8 541.0,403.5 546.5,397.9 548.7,381.4 552.0,381.4 562.0,362.6 567.5,347.2 570.8,347.2 573.0,329.5 574.1,274.3 576.3,276.5 579.6,272.1 581.8,289.7 585.1,296.4 588.4,285.3 592.9,287.5 596.2,278.7 599.5,263.2 606.1,258.8 611.6,253.3 613.5,266.4 620.3,256.3 626.0,256.6 633.8,249.5 637.1,252.9 647.3,239.4 657.4,229.3 660.8,222.5 662.4,190.5 664.1,202.3 672.6,198.9 677.6,182.0 686.1,180.3 689.5,155.0 694.5,146.6 701.3,150.0 704.6,151.6 706.3,116.2 709.7,117.9 713.1,107.8 718.1,114.5 720.8,119.6 724.9,104.4 727.6,85.8 730.0,85.8 730.6,62.2 733.3,65.6 735.0,70.6 736.7,33.5 737.7,35.2 738.4,87.5 739.1,90.9 740.1,155.0 741.0,270.0 741.0,286.9 742.7,293.6 743.5,330.8 746.9,337.5 749.4,347.7 752.8,351.0 754.5,378.0 757.9,367.9 760.4,352.7 762.9,354.4 765.4,344.3 768.0,359.5 770.5,367.1 773.0,334.1 774.7,344.3 777.3,334.1 779.0,334.1 780.6,351.0 783.2,351.0 785.7,337.5 788.2,331.6 790.8,330.8 792.5,334.1 794.1,317.3 795.8,300.4 798.4,301.2 800.9,302.1 802.6,291.9 805.1,287.7 807.7,290.3 810.2,306.3 812.7,319.0 815.2,319.0 817.8,325.7 821.2,332.5 826.2,332.5 831.3,332.5 836.3,330.8 840.6,329.9 842.3,339.2 844.8,337.5 849.9,335.8 850.7,300.4 853.2,303.8 856.6,305.4 860.0,310.5 865.0,313.0 867.6,314.7 870.1,324.0 873.5,361.2 876.9,362.8 879.4,351.0 880.2,367.9 883.6,369.6 885.3,374.7 893.7,378.9 898.8,374.7 903.4,372.0 906.9,375.5 911.5,375.5 915.0,375.5 919.7,380.2 922.0,375.5 925.6,377.9 929.0,370.8 933.7,366.2 940.0,350.0 947.8,328.8 950.1,322.9 954.8,320.6 959.4,317.1 962.9,313.6 965.3,301.9 967.6,307.8 970.0,320.6 971.1,321.8 975.8,324.1 977.0,310.1 980.5,304.3 982.8,334.6 986.3,340.5 989.8,349.8 992.1,338.1 996.8,335.8 999.2,317.1 1001.5,300.7 1003.8,303.1 1007.3,335.8 1010.8,332.3 1015.5,328.8 1020.2,326.4 1022.5,320.6 1027.2,317.1 1030.7,310.1 1034.2,305.4 1038.9,304.3 1041.2,300.7 1043.6,293.7 1048.2,289.1 1050.5,285.6 1054.0,276.8 1059.3,268.1 1061.0,303.2 1064.6,287.4 1068.1,296.1 1071.6,310.2 1076.8,306.7 1080.4,294.4 1082.1,273.3 1085.6,262.8 1089.1,271.6 1090.9,234.7 1094.4,224.2 1097.9,208.4 1101.4,203.2 1103.2,189.1 1106.7,190.9 1111.9,194.4 1111.9,164.6 1115.4,169.8 1116.5,152.3 1118.9,138.2 1120.0,113.7 1122.5,87.4 1126.0,94.4 1127.7,82.1 1130.5,66.3 1133.0,62.8 1135.4,59.3 1138.2,85.6 1140.0,103.2 1143.5,115.4 1147.0,119.0 1148.8,71.6 1152.3,68.1 1155.8,69.8 1159.3,96.1 1162.8,115.4 1166.3,119.0 1171.6,111.9 1175.1,103.2 1178.6,106.7 1182.1,110.2 1183.9,99.6 1187.4,99.6 1190.9,101.4 1194.4,96.1 1196.1,73.3" fill="none" stroke="#1a1a1a" stroke-width="1.35" stroke-linejoin="round" stroke-linecap="round"/><polyline points="104.4,375.2 106.9,377.1 109.4,377.1 111.3,370.3 113.8,367.1 118.1,364.0 119.4,357.1 121.9,354.0 125.0,352.1 127.5,355.3 130.0,350.3 132.5,347.1 134.4,338.4 137.5,339.0 139.4,354.6 141.9,352.1 145.0,354.0 147.5,350.9 149.4,355.3 150.6,347.8 153.8,344.6 155.6,350.3 157.5,349.6 160.0,350.3 162.5,354.6 163.1,375.2 163.5,421.5 164.0,455.0" fill="none" stroke="#1a1a1a" stroke-width="1.3" stroke-linejoin="round" stroke-linecap="round"/><polyline points="103.1,411.5 105.6,419.0 108.8,421.5 110.6,414.0 112.5,407.0 115.6,399.0 118.1,395.9 119.4,392.8 121.9,397.1 125.0,399.0 126.9,401.5 128.8,395.2 131.2,400.2 133.1,402.1 135.0,398.4 138.1,396.5 141.2,397.8 143.1,395.2 145.0,402.1 146.2,377.8 148.1,357.8 148.8,351.5 151.0,350.0 153.1,363.4 157.5,359.6 159.4,355.3 162.5,354.0 165.0,386.5 167.5,394.0 168.8,409.0 170.6,421.5 172.1,442.5 175.8,445.0 177.5,450.0 178.3,452.5 182.0,456.0" fill="none" stroke="#1a1a1a" stroke-width="1.3" stroke-linejoin="round" stroke-linecap="round"/>
<g font-size="21.5"><rect x="449.5" y="577.5" width="385" height="190.3" fill="none" stroke="#3a3a3a" stroke-width="1.2"/><line x1="465" y1="599.7" x2="550" y2="599.7" stroke="#1a1a1a" stroke-width="4.0"/><text transform="translate(566,604.9) scale(1.2370,1)">Bitcoin vs EURUSD</text><line x1="465" y1="635.5" x2="550" y2="635.5" stroke="#1a1a1a" stroke-width="1.3"/><text transform="translate(566,640.7) scale(1.2209,1)">Bitcoin vs JPYUSD</text><line x1="465" y1="672.3" x2="550" y2="672.3" stroke="#1a1a1a" stroke-width="1.3"/><text transform="translate(566,677.5) scale(1.2778,1)">Bitcoin vs VIX</text><line x1="465" y1="708.8" x2="550" y2="708.8" stroke="#1a1a1a" stroke-width="4.0"/><text transform="translate(566,714.0) scale(1.2432,1)">Bitcoin vs EVZ</text><line x1="465" y1="744.8" x2="550" y2="744.8" stroke="#1a1a1a" stroke-width="2.6"/><text transform="translate(566,750.0) scale(1.3075,1)">Bitcoin vs Nikkei Vol</text></g>
</svg>
</body></html>
